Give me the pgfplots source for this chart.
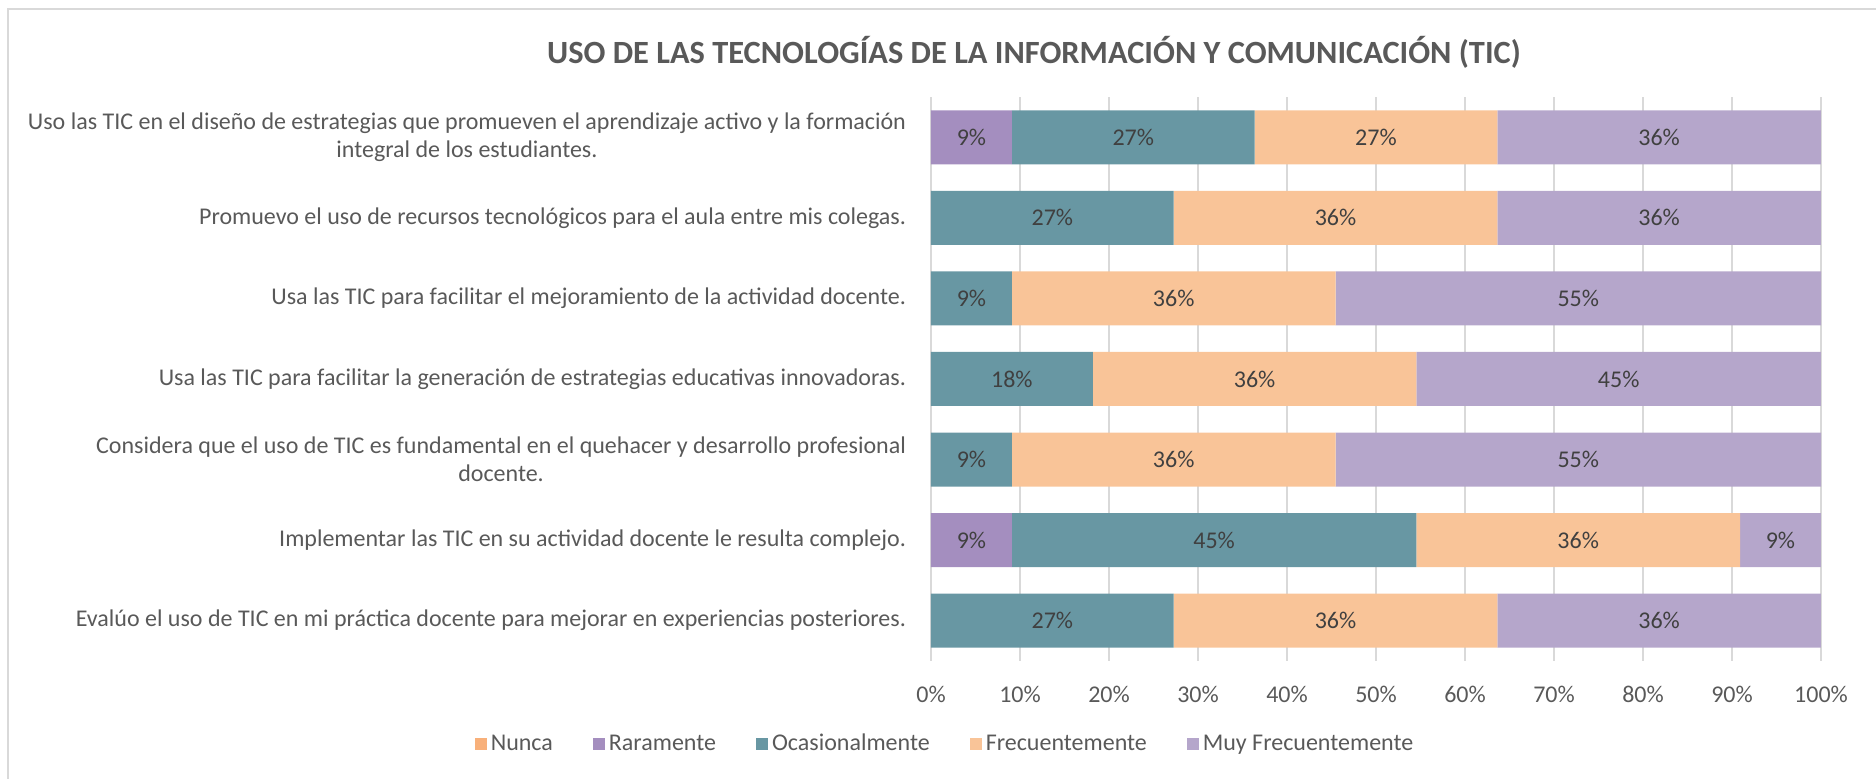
\documentclass[border=0pt]{standalone}
\usepackage{fontspec}
\setmainfont{Carlito}
\usepackage{pgfplots}
\usepackage{pgfplotstable}
\pgfplotsset{compat=1.18}

\definecolor{cNunca}{HTML}{F8B07A}
\definecolor{cRara}{HTML}{A48EBF}
\definecolor{cOcas}{HTML}{6897A3}
\definecolor{cFrec}{HTML}{F9C498}
\definecolor{cMuy}{HTML}{B5A6CB}
\definecolor{txtgray}{HTML}{595959}
\definecolor{lblgray}{HTML}{404040}
\definecolor{gridgray}{HTML}{D9D9D9}

% rows from bottom (0) to top (6), shares in percent
\pgfplotstableread{
row nunca rara ocas frec muy
0   0     0     27.27 36.36 36.36
1   0     9.09  45.45 36.36 9.09
2   0     0     9.09  36.36 54.55
3   0     0     18.18 36.36 45.45
4   0     0     9.09  36.36 54.55
5   0     0     27.27 36.36 36.36
6   0     9.09  27.27 27.27 36.36
}\tic

\newcommand{\lblfont}{\fontsize{12}{14}\selectfont}

% segment labels, centred in each segment
\pgfplotsset{
  seglabel/.style={
    point meta=explicit,
    nodes near coords={\pgfmathprintnumber[fixed,precision=0]{\pgfplotspointmeta}\%},
    every node near coord/.style={
      check for zero/.code={\pgfmathfloatifflags{\pgfplotspointmeta}{0}{\pgfkeys{/tikz/coordinate}}{}},
      check for zero,
      anchor=center, font=\lblfont, text=lblgray},
  },
}

\begin{document}
\begin{tikzpicture}
\useasboundingbox (0,0) rectangle (938pt,389.5pt);
\draw[gridgray, line width=0.8pt] (4pt,-5pt) -- (4pt,385pt) -- (945pt,385pt);
\begin{axis}[
  at={(465.5pt,59pt)}, anchor=south west,
  scale only axis, width=445pt, height=282pt,
  xbar stacked, bar width=0.67,
  legend image code/.code={\fill[#1] (0pt,-3pt) rectangle (6pt,3pt);},
  xmin=0, xmax=100, ymin=-0.5, ymax=6.5,
  axis line style={draw=none},
  major tick length=0pt,
  xmajorgrids, grid style={gridgray, line width=0.6pt},
  xtick={0,10,...,100},
  xticklabel={\pgfmathprintnumber{\tick}\%},
  /pgf/number format/assume math mode=true,
  xticklabel style={anchor=center, yshift=-16.5pt, font=\lblfont, text=txtgray},
  ytick={0,...,6},
  yticklabels={
    {Evalúo el uso de TIC en mi práctica docente para mejorar en experiencias posteriores.},
    {Implementar las TIC en su actividad docente le resulta complejo.},
    {Considera que el uso de TIC es fundamental en el quehacer y desarrollo profesional\\docente.},
    {Usa las TIC para facilitar la generación de estrategias educativas innovadoras.},
    {Usa las TIC para facilitar el mejoramiento de la actividad docente.},
    {Promuevo el uso de recursos tecnológicos para el aula entre mis colegas.},
    {Uso las TIC en el diseño de estrategias que promueven el aprendizaje activo y la formación\\integral de los estudiantes.}
  },
  yticklabel style={align=center, anchor=east, xshift=-9pt, font=\lblfont, text=txtgray},
  title={USO DE LAS TECNOLOGÍAS DE LA INFORMACIÓN Y COMUNICACIÓN (TIC)},
  title style={at={(0.1157,1.078)}, anchor=center, yshift=-5.5pt, text=txtgray,
    font=\bfseries\fontsize{16.2}{19}\selectfont},
  legend columns=-1,
  legend style={at={(0.0169,-0.147)}, anchor=center, draw=none, fill=none,
    font=\lblfont, text=txtgray,
    /tikz/every even column/.append style={column sep=18pt}},
]
\addplot[fill=cNunca, draw=none] table[x=nunca, y=row]{\tic};
\addplot[fill=cRara, draw=none, seglabel] table[x=rara, y=row, meta=rara]{\tic};
\addplot[fill=cOcas, draw=none, seglabel] table[x=ocas, y=row, meta=ocas]{\tic};
\addplot[fill=cFrec, draw=none, seglabel] table[x=frec, y=row, meta=frec]{\tic};
\addplot[fill=cMuy, draw=none, seglabel] table[x=muy, y=row, meta=muy]{\tic};
\legend{Nunca, Raramente, Ocasionalmente, Frecuentemente, Muy Frecuentemente}
\end{axis}
\end{tikzpicture}
\end{document}
